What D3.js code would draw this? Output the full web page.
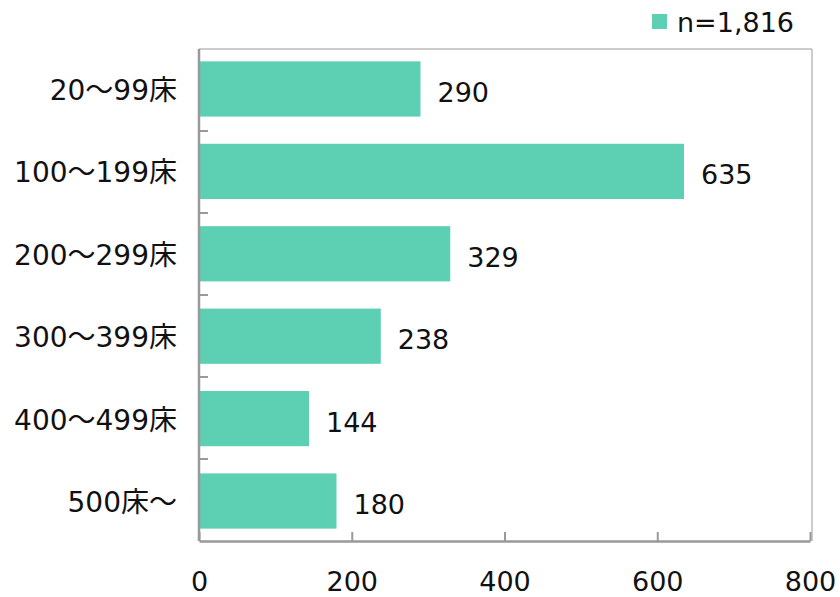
<!DOCTYPE html>
<meta charset='utf-8'>
<style>
  body { margin:0; background:#fff; }
  text { font-family:'DejaVu Sans','Noto Sans CJK JP',sans-serif; fill:#111; }
</style>
<body>
<script src='https://d3js.org/d3.v7.min.js'></script>
<script>
  var categories = ['20～99床','100～199床','200～299床','300～399床','400～499床','500床～'];
  var counts = [290,635,329,238,144,180];
  var xTicks = [0,200,400,600,800];
  var legendLabel = 'n=1,816';

  var width = 840, height = 597;
  var plotLeft = 199, plotRight = 810, plotTop = 49, plotBottom = 541;
  var barColor = '#5dcfb2';
  var fontFamily = "'DejaVu Sans','Noto Sans CJK JP',sans-serif";

  var svg = d3.select('body').append('svg')
    .attr('width',width)
    .attr('height',height);

  var x = d3.scaleLinear().domain([0,800]).range([plotLeft,plotRight]);
  var y = d3.scaleBand().domain(categories).range([plotTop,plotBottom]).paddingInner(0.33).paddingOuter(0.15);

  // frame
  svg.append('line').attr('x1',plotLeft).attr('x2',plotRight+2).attr('y1',plotTop).attr('y2',plotTop)
    .attr('stroke','#bbb').attr('stroke-width',1.5);
  svg.append('line').attr('x1',plotRight+2).attr('x2',plotRight+2).attr('y1',plotTop).attr('y2',plotBottom)
    .attr('stroke','#bbb').attr('stroke-width',1.5);

  // bars
  svg.selectAll('rect.bar').data(counts).enter().append('rect')
    .attr('class','bar')
    .attr('x',x(0))
    .attr('y',function(d,i){ return y(categories[i]); })
    .attr('width',function(d){ return x(d)-x(0); })
    .attr('height',y.bandwidth())
    .attr('fill',barColor);

  // value labels
  svg.selectAll('text.val').data(counts).enter().append('text')
    .attr('class','val')
    .attr('x',function(d){ return x(d)+17; })
    .attr('y',function(d,i){ return y(categories[i])+y.bandwidth()/2+13; })
    .attr('font-size',27)
    .text(function(d){ return d; });

  // x axis
  var xAxis = svg.append('g').attr('transform','translate(0,'+plotBottom+')')
    .call(d3.axisBottom(x).tickValues(xTicks).tickSizeInner(-9).tickSizeOuter(0).tickPadding(31));
  xAxis.select('.domain').attr('stroke','#999').attr('stroke-width',2.5);
  xAxis.selectAll('.tick line').attr('stroke','#999').attr('stroke-width',2);
  xAxis.selectAll('.tick text').attr('font-size',27).attr('fill','#111')
    .attr('font-family',fontFamily);

  // y axis
  var bounds = d3.range(1,categories.length).map(function(i){ return plotTop + (plotBottom-plotTop)*i/categories.length; });
  svg.append('line').attr('x1',plotLeft).attr('x2',plotLeft).attr('y1',plotTop).attr('y2',plotBottom)
    .attr('stroke','#999').attr('stroke-width',2.5);
  svg.selectAll('line.ytick').data(bounds).enter().append('line')
    .attr('class','ytick')
    .attr('x1',plotLeft).attr('x2',plotLeft+9)
    .attr('y1',function(d){ return d; }).attr('y2',function(d){ return d; })
    .attr('stroke','#999').attr('stroke-width',2);
  svg.selectAll('text.ylab').data(categories).enter().append('text')
    .attr('class','ylab')
    .attr('x',177)
    .attr('y',function(d){ return y(d)+y.bandwidth()/2+11; })
    .attr('text-anchor','end')
    .attr('font-size',28)
    .text(function(d){ return d; });

  // legend
  svg.append('rect').attr('x',652).attr('y',14).attr('width',15).attr('height',15).attr('fill',barColor);
  svg.append('text').attr('x',677).attr('y',32).attr('font-size',27).text(legendLabel);
</script>
</body>
